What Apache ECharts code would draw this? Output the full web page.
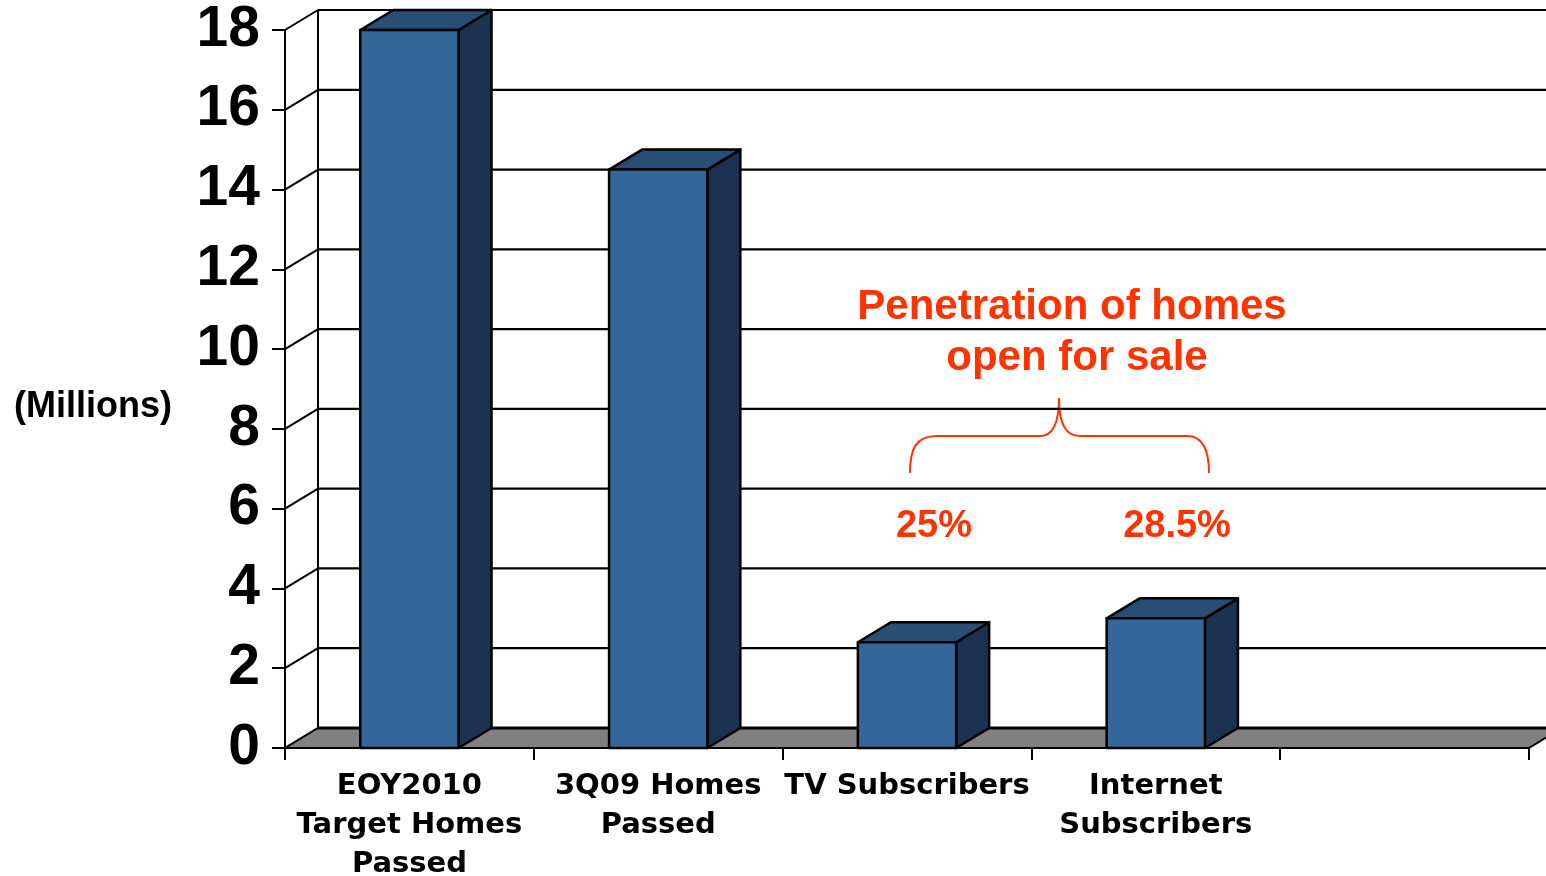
<!DOCTYPE html>
<html>
<head>
<meta charset="utf-8">
<script src="https://cdn.jsdelivr.net/npm/echarts@6/dist/echarts.min.js"></script>
<style>
  html, body { margin: 0; padding: 0; background: #fff; }
  #chart { width: 1546px; height: 876px; }
</style>
</head>
<body>
<div id="chart"></div>
<script>
// values (millions of homes)
var categories = ['EOY2010\nTarget Homes\nPassed', '3Q09 Homes\nPassed', 'TV Subscribers', 'Internet\nSubscribers', ''];
var homesMillions = [18, 14.5, 2.65, 3.25, null];
var yTicks = [0, 2, 4, 6, 8, 10, 12, 14, 16, 18];
var penetrationLabels = ['25%', '28.5%'];

// 3d depth of the walls / bars, in pixels
var DX = 33, DY = -20;
var FRONT = '#336699', TOP = '#284e75', SIDE = '#1b3350';
var RED = '#ff3300';

var chart = echarts.init(document.getElementById('chart'));

function renderGridline(params, api) {
  var cs = params.coordSys;
  var y = api.coord([0, api.value(1)])[1];
  var bx = cs.x + DX, by = y + DY;
  return {
    type: 'group',
    children: [
      { type: 'line', shape: { x1: cs.x, y1: y, x2: bx, y2: by }, style: { stroke: '#000', lineWidth: 2 } },
      { type: 'line', shape: { x1: bx, y1: by, x2: cs.x + cs.width + DX, y2: by }, style: { stroke: '#000', lineWidth: 2.2 } }
    ]
  };
}

function renderFloor(params, api) {
  var cs = params.coordSys;
  var y0 = api.coord([0, 0])[1];
  var yTop = api.coord([0, yTicks[yTicks.length - 1]])[1];
  var xl = cs.x, xr = cs.x + cs.width;
  return {
    type: 'group',
    children: [
      { type: 'line', shape: { x1: xl + DX, y1: y0 + DY, x2: xl + DX, y2: yTop + DY }, style: { stroke: '#000', lineWidth: 2 } },
      { type: 'polygon', shape: { points: [[xl, y0], [xl + DX, y0 + DY], [xr + DX, y0 + DY], [xr, y0]] }, style: { fill: '#808080' } },
      { type: 'line', shape: { x1: xl + DX, y1: y0 + DY, x2: xr + DX, y2: y0 + DY }, style: { stroke: '#000', lineWidth: 3 } },
      { type: 'line', shape: { x1: xl, y1: y0, x2: xl + DX, y2: y0 + DY }, style: { stroke: '#000', lineWidth: 2 } },
      { type: 'line', shape: { x1: xr, y1: y0, x2: xr + DX, y2: y0 + DY }, style: { stroke: '#000', lineWidth: 2 } }
    ]
  };
}

function renderBar(params, api) {
  var base = api.coord([api.value(0), 0]);
  var top = api.coord([api.value(0), api.value(1)]);
  var w = api.size([1, 0])[0] * 0.395;
  var x0 = base[0] - w / 2, x1 = base[0] + w / 2;
  var y0 = base[1], y1 = top[1];
  var edge = { stroke: '#000', lineWidth: 2.5, lineJoin: 'round' };
  return {
    type: 'group',
    children: [
      { type: 'polygon', shape: { points: [[x1, y0], [x1 + DX, y0 + DY], [x1 + DX, y1 + DY], [x1, y1]] },
        style: Object.assign({ fill: SIDE }, edge) },
      { type: 'polygon', shape: { points: [[x0, y1], [x0 + DX, y1 + DY], [x1 + DX, y1 + DY], [x1, y1]] },
        style: Object.assign({ fill: TOP }, edge) },
      { type: 'rect', shape: { x: x0, y: y1, width: w, height: y0 - y1 },
        style: Object.assign({ fill: FRONT }, edge) }
    ]
  };
}

var barData = [];
homesMillions.forEach(function (v, i) {
  if (v != null) barData.push([i, v]);
});

// curly brace over the two subscriber bars
var braceStyle = { stroke: RED, lineWidth: 2, fill: null };
var brace = [
  { type: 'bezierCurve', shape: { x1: 910, y1: 473, cpx1: 910, cpy1: 450, cpx2: 915, cpy2: 436, x2: 937, y2: 436 }, style: braceStyle },
  { type: 'line', shape: { x1: 937, y1: 436, x2: 1040, y2: 436 }, style: braceStyle },
  { type: 'bezierCurve', shape: { x1: 1040, y1: 436, cpx1: 1052, cpy1: 436, cpx2: 1059, cpy2: 425, x2: 1059, y2: 398 }, style: braceStyle },
  { type: 'bezierCurve', shape: { x1: 1059, y1: 398, cpx1: 1059, cpy1: 425, cpx2: 1066, cpy2: 436, x2: 1080, y2: 436 }, style: braceStyle },
  { type: 'line', shape: { x1: 1080, y1: 436, x2: 1187, y2: 436 }, style: braceStyle },
  { type: 'bezierCurve', shape: { x1: 1187, y1: 436, cpx1: 1203, cpy1: 436, cpx2: 1209, cpy2: 450, x2: 1209, y2: 473 }, style: braceStyle }
];

var option = {
  animation: false,
  backgroundColor: '#fff',
  grid: { left: 285, right: 17, top: 30, bottom: 128, outerBoundsMode: 'none', containLabel: false },
  xAxis: {
    type: 'category',
    data: categories,
    z: 10,
    axisLine: { lineStyle: { color: '#000', width: 2 } },
    axisTick: { show: true, length: 12, lineStyle: { color: '#000', width: 2 } },
    axisLabel: {
      interval: 0,
      margin: 19,
      color: '#000',
      fontFamily: 'DejaVu Sans',
      fontWeight: 'bold',
      fontSize: 29,
      lineHeight: 39
    },
    splitLine: { show: false }
  },
  yAxis: {
    type: 'value',
    min: 0,
    max: 18,
    interval: 2,
    z: 10,
    axisLine: { show: true, lineStyle: { color: '#000', width: 2 } },
    axisTick: { show: true, length: 13, lineStyle: { color: '#000', width: 2 } },
    axisLabel: {
      margin: 25,
      color: '#000',
      fontFamily: 'Liberation Sans',
      fontWeight: 'bold',
      fontSize: 57
    },
    splitLine: { show: false }
  },
  series: [
    {
      type: 'custom',
      name: 'gridlines',
      clip: false,
      silent: true,
      z: 1,
      renderItem: renderGridline,
      encode: { x: 0, y: 1 },
      data: yTicks.map(function (t) { return [0, t]; })
    },
    {
      type: 'custom',
      name: 'floor',
      clip: false,
      silent: true,
      z: 2,
      renderItem: renderFloor,
      encode: { x: 0, y: 1 },
      data: [[0, 0]]
    },
    {
      type: 'custom',
      name: 'Homes (millions)',
      clip: false,
      z: 3,
      renderItem: renderBar,
      encode: { x: 0, y: 1 },
      data: barData
    }
  ],
  graphic: [
    {
      type: 'text', x: 93, y: 407,
      style: { text: '(Millions)', fill: '#000', font: 'bold 36px "Liberation Sans"', align: 'center', verticalAlign: 'middle' }
    },
    {
      type: 'text', x: 1072, y: 307,
      style: { text: 'Penetration of homes', fill: RED, font: 'bold 42px "Liberation Sans"', align: 'center', verticalAlign: 'middle' }
    },
    {
      type: 'text', x: 1077, y: 358,
      style: { text: 'open for sale', fill: RED, font: 'bold 42px "Liberation Sans"', align: 'center', verticalAlign: 'middle' }
    },
    { type: 'group', children: brace },
    {
      type: 'text', x: 934, y: 527,
      style: { text: penetrationLabels[0], fill: RED, font: 'bold 38px "Liberation Sans"', align: 'center', verticalAlign: 'middle' }
    },
    {
      type: 'text', x: 1177, y: 527,
      style: { text: penetrationLabels[1], fill: RED, font: 'bold 38px "Liberation Sans"', align: 'center', verticalAlign: 'middle' }
    }
  ]
};

chart.setOption(option);
</script>
</body>
</html>
